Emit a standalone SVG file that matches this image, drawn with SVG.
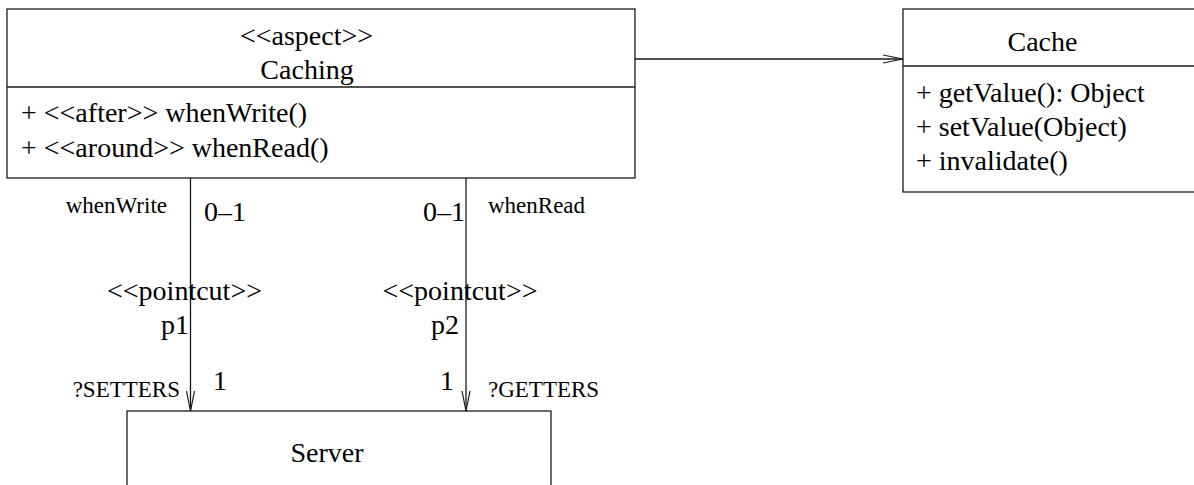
<svg xmlns="http://www.w3.org/2000/svg" width="1194" height="485" viewBox="0 0 1194 485">
<style>
.box{fill:#fff;stroke:#1a1a1a;stroke-width:1.3}
.ln{stroke:#1a1a1a;stroke-width:1.3;fill:none}
.t{font-size:28px}
.s{font-size:23px}
.m{text-anchor:middle}
.e{text-anchor:end}
</style>
<defs>
<marker id="open" markerWidth="22" markerHeight="10" refX="20" refY="5" orient="auto" markerUnits="userSpaceOnUse">
<path d="M0,1 L20,5 L0,9" fill="none" stroke="#1a1a1a" stroke-width="1.2"/>
</marker>
</defs>
<g font-family="Liberation Serif, Tinos, Times New Roman, DejaVu Serif, serif" fill="#000">
<g id="connectors">
<line class="ln" x1="635" y1="59" x2="903" y2="59" marker-end="url(#open)"/>
<line class="ln" x1="190.5" y1="178" x2="190.5" y2="411" marker-end="url(#open)"/>
<line class="ln" x1="466" y1="178" x2="466" y2="411" marker-end="url(#open)"/>
<text class="s e" x="167" y="213">whenWrite</text>
<text class="t" x="204" y="221">0–1</text>
<text class="t e" x="465" y="221">0–1</text>
<text class="s" x="488" y="213">whenRead</text>
<text class="t m" x="184.5" y="300">&lt;&lt;pointcut&gt;&gt;</text>
<text class="t e" x="189" y="334">p1</text>
<text class="t m" x="460" y="300">&lt;&lt;pointcut&gt;&gt;</text>
<text class="t e" x="459" y="334">p2</text>
<text class="s e" x="180" y="397">?SETTERS</text>
<text class="t" x="213" y="390">1</text>
<text class="t e" x="454" y="390">1</text>
<text class="s" x="488" y="397">?GETTERS</text>
</g>
<g id="caching">
<rect class="box" x="7" y="9" width="628" height="169"/>
<line class="ln" x1="7" y1="87" x2="635" y2="87"/>
<text class="t m" x="306.5" y="45">&lt;&lt;aspect&gt;&gt;</text>
<text class="t m" x="307" y="79">Caching</text>
<text class="t" x="21" y="122">+ &lt;&lt;after&gt;&gt; whenWrite()</text>
<text class="t" x="21" y="157">+ &lt;&lt;around&gt;&gt; whenRead()</text>
</g>
<g id="cache">
<rect class="box" x="903" y="9" width="295" height="183"/>
<line class="ln" x1="903" y1="66" x2="1198" y2="66"/>
<text class="t m" x="1042.5" y="51">Cache</text>
<text class="t" x="916" y="102">+ getValue(): Object</text>
<text class="t" x="916" y="136">+ setValue(Object)</text>
<text class="t" x="916" y="170">+ invalidate()</text>
</g>
<g id="server">
<rect class="box" x="127" y="411" width="424" height="90"/>
<text class="t m" x="327" y="462">Server</text>
</g>
</g>
</svg>
